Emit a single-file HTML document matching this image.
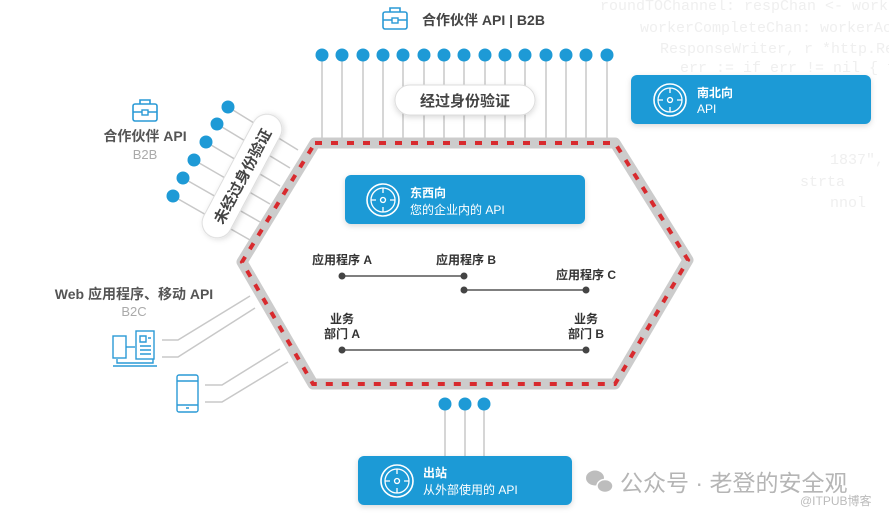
<!DOCTYPE html>
<html><head><meta charset="utf-8">
<style>
html,body{margin:0;padding:0;background:#fff;}
svg{display:block;font-family:"Liberation Sans","Noto Sans CJK SC",sans-serif;}
</style></head><body>
<svg width="889" height="515" viewBox="0 0 889 515" xmlns="http://www.w3.org/2000/svg">
<defs>
<filter id="sh" x="-20%" y="-40%" width="140%" height="180%"><feDropShadow dx="0" dy="2" stdDeviation="3" flood-color="#000" flood-opacity="0.15"/></filter>
<g id="comp"><circle r="16" fill="none" stroke="#fff" stroke-width="1.6"/><circle r="12" fill="none" stroke="#fff" stroke-width="1.3"/><circle r="2.5" fill="none" stroke="#fff" stroke-width="1.3"/><path d="M0 -12v5M0 12v-5M-12 0h5M12 0h-5" stroke="#fff" stroke-width="1.3"/></g>
<g id="case"><rect x="-12" y="-8" width="24" height="17" rx="2" fill="none" stroke="#2a9ad6" stroke-width="1.6"/><path d="M-5 -8v-4h10v4M-12 0h24" stroke="#2a9ad6" stroke-width="1.6" fill="none"/><rect x="-3" y="-2" width="6" height="5" fill="#fff" stroke="#2a9ad6" stroke-width="1.4"/></g>
</defs>
<!-- faint code background -->
<g fill="#efefef" font-family="Liberation Mono, monospace" font-size="15">
<text x="600" y="10">roundTOChannel: respChan &lt;- workerA</text>
<text x="640" y="32">workerCompleteChan: workerActive</text>
<text x="660" y="53">ResponseWriter, r *http.Reques</text>
<text x="680" y="72">err := if err != nil { fmt</text>
<text x="860" y="90">i</text>
<text x="840" y="112">t</text>
<text x="830" y="164">1837",</text>
<text x="800" y="186">strta</text>
<text x="830" y="207">nnol</text>
</g>
<!-- top connectors -->
<g stroke="#c8c8c8" stroke-width="1.5">
<line x1="322" y1="55" x2="322" y2="143"/><line x1="342" y1="55" x2="342" y2="143"/><line x1="363" y1="55" x2="363" y2="143"/><line x1="383" y1="55" x2="383" y2="143"/><line x1="403" y1="55" x2="403" y2="143"/><line x1="424" y1="55" x2="424" y2="143"/><line x1="444" y1="55" x2="444" y2="143"/><line x1="464" y1="55" x2="464" y2="143"/><line x1="485" y1="55" x2="485" y2="143"/><line x1="505" y1="55" x2="505" y2="143"/><line x1="525" y1="55" x2="525" y2="143"/><line x1="546" y1="55" x2="546" y2="143"/><line x1="566" y1="55" x2="566" y2="143"/><line x1="586" y1="55" x2="586" y2="143"/><line x1="607" y1="55" x2="607" y2="143"/>
<line x1="228" y1="107" x2="298" y2="150"/><line x1="217" y1="124" x2="290" y2="168"/><line x1="206" y1="142" x2="280" y2="186"/><line x1="194" y1="160" x2="270" y2="204"/><line x1="183" y1="178" x2="260" y2="222"/><line x1="173" y1="196" x2="250" y2="240"/>
<polyline points="162,340 178,340 250,296" fill="none"/><polyline points="162,357 178,357 255,308" fill="none"/>
<polyline points="205,385 222,385 280,349" fill="none"/><polyline points="205,402 222,402 288,362" fill="none"/>
<line x1="445" y1="404" x2="445" y2="456"/><line x1="465" y1="404" x2="465" y2="456"/><line x1="484" y1="404" x2="484" y2="456"/>
</g>
<g fill="#1e9ad6">
<circle cx="322" cy="55" r="6.5"/><circle cx="342" cy="55" r="6.5"/><circle cx="363" cy="55" r="6.5"/><circle cx="383" cy="55" r="6.5"/><circle cx="403" cy="55" r="6.5"/><circle cx="424" cy="55" r="6.5"/><circle cx="444" cy="55" r="6.5"/><circle cx="464" cy="55" r="6.5"/><circle cx="485" cy="55" r="6.5"/><circle cx="505" cy="55" r="6.5"/><circle cx="525" cy="55" r="6.5"/><circle cx="546" cy="55" r="6.5"/><circle cx="566" cy="55" r="6.5"/><circle cx="586" cy="55" r="6.5"/><circle cx="607" cy="55" r="6.5"/>
<circle cx="228" cy="107" r="6.5"/><circle cx="217" cy="124" r="6.5"/><circle cx="206" cy="142" r="6.5"/><circle cx="194" cy="160" r="6.5"/><circle cx="183" cy="178" r="6.5"/><circle cx="173" cy="196" r="6.5"/>
<circle cx="445" cy="404" r="6.5"/><circle cx="465" cy="404" r="6.5"/><circle cx="484" cy="404" r="6.5"/>
</g>
<!-- hexagon -->
<path d="M315 143 L615 143 L688 260 L615 384 L313 384 L242 262 Z" fill="none" stroke="#cccccc" stroke-width="11" stroke-linejoin="round"/>
<path d="M315 143 L615 143 L688 260 L615 384 L313 384 L242 262 Z" fill="none" stroke="#d82a2e" stroke-width="4" stroke-dasharray="7 9"/>
<!-- pills -->
<rect x="395" y="85" width="140" height="30" rx="15" fill="#fff" stroke="#ddd" filter="url(#sh)"/>
<text x="465" y="106" text-anchor="middle" font-size="15" font-weight="bold" fill="#444">经过身份验证</text>
<g transform="translate(242,176) rotate(-62)">
<rect x="-68" y="-15" width="136" height="30" rx="15" fill="#fff" stroke="#ddd" filter="url(#sh)"/>
<text x="0" y="6" text-anchor="middle" font-size="15" font-weight="bold" fill="#444">未经过身份验证</text>
</g>
<use href="#case" x="395" y="20"/>
<text x="422" y="25" font-size="14" font-weight="bold" fill="#444">合作伙伴 API | B2B</text>
<use href="#case" x="145" y="112"/>
<text x="145" y="141" text-anchor="middle" font-size="14" font-weight="bold" fill="#555">合作伙伴 API</text>
<text x="145" y="159" text-anchor="middle" font-size="13" fill="#aaa">B2B</text>
<text x="134" y="299" text-anchor="middle" font-size="14" font-weight="bold" fill="#555">Web 应用程序、移动 API</text>
<text x="134" y="316" text-anchor="middle" font-size="13" fill="#aaa">B2C</text>
<g fill="none" stroke="#2a9ad6" stroke-width="1.4">
<rect x="113" y="336" width="13" height="22"/><path d="M126 347h9"/><rect x="136" y="331" width="18" height="28"/><path d="M140 336h6v6h-6zM148 338h3M140 346h11M140 350h11M140 354h11"/><path d="M117 359v4h36v-4M113 366h44"/>
<rect x="177" y="375" width="21" height="37" rx="2"/><path d="M177 381h21M177 405h21M186 408h3"/>
</g>
<rect x="631" y="75" width="240" height="49" rx="6" fill="#1e9ad6" filter="url(#sh)"/>
<use href="#comp" x="670" y="100"/>
<text x="697" y="97" font-size="12" font-weight="bold" fill="#fff">南北向</text>
<text x="697" y="113" font-size="12" fill="#fff">API</text>
<rect x="345" y="175" width="240" height="49" rx="6" fill="#1e9ad6" filter="url(#sh)"/>
<use href="#comp" x="383" y="200"/>
<text x="410" y="197" font-size="12" font-weight="bold" fill="#fff">东西向</text>
<text x="410" y="214" font-size="12" fill="#fff">您的企业内的 API</text>
<rect x="358" y="456" width="214" height="49" rx="6" fill="#1e9ad6" filter="url(#sh)"/>
<use href="#comp" x="397" y="481"/>
<text x="423" y="477" font-size="12" font-weight="bold" fill="#fff">出站</text>
<text x="423" y="494" font-size="12" fill="#fff">从外部使用的 API</text>
<g stroke="#555" stroke-width="1.5"><line x1="342" y1="276" x2="464" y2="276"/><line x1="464" y1="290" x2="586" y2="290"/><line x1="342" y1="350" x2="586" y2="350"/></g>
<g fill="#444"><circle cx="342" cy="276" r="3.5"/><circle cx="464" cy="276" r="3.5"/><circle cx="464" cy="290" r="3.5"/><circle cx="586" cy="290" r="3.5"/><circle cx="342" cy="350" r="3.5"/><circle cx="586" cy="350" r="3.5"/></g>
<g font-size="12" font-weight="bold" fill="#333" text-anchor="middle">
<text x="342" y="264">应用程序 A</text><text x="466" y="264">应用程序 B</text><text x="586" y="279">应用程序 C</text>
<text x="342" y="323">业务</text><text x="342" y="338">部门 A</text>
<text x="586" y="323">业务</text><text x="586" y="338">部门 B</text>
</g>
<g fill="#bdbdbd"><ellipse cx="595" cy="478" rx="9" ry="7.5"/><ellipse cx="605" cy="486" rx="8" ry="6.5" stroke="#fff" stroke-width="1.5"/></g>
<text x="620" y="491" font-size="23" fill="#b5b5b5">公众号 · 老登的安全观</text>
<text x="800" y="505" font-size="12" fill="#bbb">@ITPUB博客</text>
</svg>
</body></html>
